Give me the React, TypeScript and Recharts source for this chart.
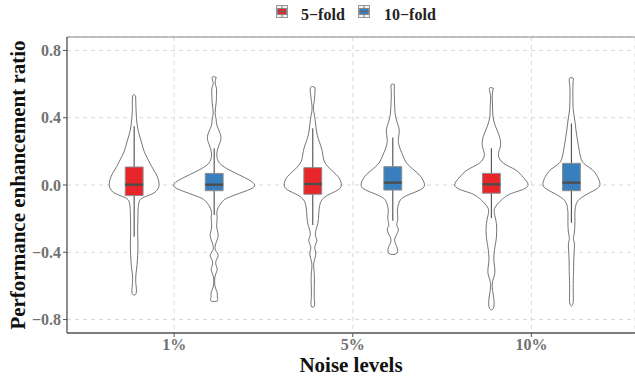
import { ComposedChart, Scatter, XAxis, YAxis, CartesianGrid, ReferenceLine } from 'recharts'

const GROUPS = ['1%', '5%', '10%']
const FOLDS = ['5−fold', '10−fold']
const FOLD_COLORS = ['#E8262A', '#3A7FBD']

// violin outlines: [ratio, density], top -> bottom
const RED_1 = [
  [0.53, 1.5], [0.46, 1.8], [0.4, 2.3], [0.35, 3.2], [0.3, 5], [0.25, 7.5], [0.2, 10], [0.15, 14],
  [0.11, 17.5], [0.07, 21.5], [0.035, 24], [0, 25], [-0.025, 23.5], [-0.05, 19], [-0.075, 9],
  [-0.1, 5], [-0.14, 4], [-0.2, 3.7], [-0.28, 3.5], [-0.35, 3.8], [-0.42, 3.5], [-0.48, 2.8],
  [-0.53, 1.8], [-0.58, 1.6], [-0.62, 2.3], [-0.65, 1.5],
]
const BLUE_1 = [
  [0.64, 2], [0.605, 1], [0.575, 2.3], [0.53, 2.3], [0.49, 2], [0.43, 1], [0.39, 2], [0.35, 3],
  [0.29, 6.7], [0.24, 5], [0.19, 2.7], [0.15, 3.5], [0.12, 7], [0.09, 15], [0.06, 25], [0.03, 35],
  [0, 40.5], [-0.025, 36], [-0.05, 25], [-0.075, 14], [-0.1, 8], [-0.15, 3], [-0.2, 3], [-0.25, 2.5],
  [-0.3, 4], [-0.35, 1.5], [-0.39, 1.5], [-0.42, 4], [-0.46, 1.5], [-0.5, 3], [-0.54, 1], [-0.6, 0.8],
  [-0.64, 3], [-0.67, 3.2], [-0.69, 3],
]
const RED_5 = [
  [0.58, 2.3], [0.53, 2], [0.49, 1.2], [0.45, 0.7], [0.39, 2.3], [0.31, 4], [0.25, 7], [0.2, 9.5],
  [0.15, 11], [0.11, 15], [0.07, 22], [0.035, 27], [0, 28.5], [-0.03, 25], [-0.06, 15], [-0.09, 9],
  [-0.12, 7], [-0.17, 6], [-0.23, 5], [-0.29, 2.5], [-0.33, 4], [-0.37, 2], [-0.41, 3], [-0.465, 1],
  [-0.53, 1.5], [-0.6, 1.5], [-0.67, 1.5], [-0.72, 1.5],
]
const BLUE_5 = [
  [0.596, 1.7], [0.55, 1.5], [0.48, 1.8], [0.42, 2.5], [0.37, 4.5], [0.32, 6.5], [0.27, 5.5],
  [0.22, 7], [0.17, 10.5], [0.13, 14], [0.09, 21], [0.05, 28], [0, 31.7], [-0.03, 27], [-0.055, 17],
  [-0.08, 9], [-0.11, 6], [-0.15, 4.5], [-0.2, 5], [-0.24, 4], [-0.27, 5.5], [-0.32, 2], [-0.36, 3.5],
  [-0.406, 4],
]
const RED_10 = [
  [0.575, 2], [0.53, 0.8], [0.47, 1.2], [0.41, 1.5], [0.35, 4], [0.29, 8], [0.23, 9], [0.18, 7],
  [0.13, 12], [0.09, 24], [0.045, 32], [0, 36.7], [-0.03, 30], [-0.05, 20], [-0.07, 14], [-0.09, 10],
  [-0.13, 4], [-0.17, 3], [-0.23, 5], [-0.31, 5], [-0.37, 3.5], [-0.45, 2.5], [-0.52, 3.5], [-0.58, 1],
  [-0.64, 1.5], [-0.68, 2.5], [-0.733, 2],
]
const BLUE_10 = [
  [0.634, 2], [0.58, 1.5], [0.5, 1.5], [0.44, 2], [0.38, 3.5], [0.33, 4.5], [0.27, 6], [0.2, 8],
  [0.15, 10], [0.12, 14], [0.09, 21], [0.05, 26], [0.01, 28.5], [-0.02, 26], [-0.05, 17], [-0.08, 9],
  [-0.11, 5], [-0.16, 3.5], [-0.21, 3.5], [-0.28, 3], [-0.32, 2], [-0.35, 3], [-0.42, 2.5], [-0.5, 2.2],
  [-0.55, 2], [-0.63, 1.8], [-0.707, 1.5],
]
const PROFILES = [RED_1, BLUE_1, RED_5, BLUE_5, RED_10, BLUE_10]

// box stats, same order as PROFILES
const WHISKER_LO = [-0.307, -0.178, -0.238, -0.212, -0.198, -0.224]
const Q1 = [-0.063, -0.034, -0.055, -0.03, -0.049, -0.034]
const MEDIAN = [0.002, 0.002, 0.006, 0.014, 0.004, 0.014]
const Q3 = [0.107, 0.069, 0.103, 0.109, 0.069, 0.129]
const WHISKER_HI = [0.35, 0.218, 0.337, 0.283, 0.218, 0.366]

const Y_TICKS = [-0.8, -0.4, 0, 0.4, 0.8]
const Y_MAX = 0.88

const DODGE = 0.224
const BOX_HALF = 0.05
const DENS_SCALE = 1 / 178.6

const FONT = 'Liberation Serif, Times New Roman, serif'
const noDot = () => <g />

const series = PROFILES.map((prof, i) => {
  const g = Math.floor(i / 2)
  const f = i % 2
  const cx = g + 1 + (f === 0 ? -DODGE : DODGE)
  const right = prof.map(([y, d]) => ({ x: cx + d * DENS_SCALE, y }))
  const left = [...prof].reverse().map(([y, d]) => ({ x: cx - d * DENS_SCALE, y }))
  return {
    f,
    violin: [...right, ...left, right[0]],
    whisker: [{ x: cx, y: WHISKER_LO[i] }, { x: cx, y: WHISKER_HI[i] }],
    box: [
      { x: cx - BOX_HALF, y: Q1[i] }, { x: cx + BOX_HALF, y: Q1[i] },
      { x: cx + BOX_HALF, y: Q3[i] }, { x: cx - BOX_HALF, y: Q3[i] },
      { x: cx - BOX_HALF, y: Q1[i] },
    ],
    median: [{ x: cx - BOX_HALF, y: MEDIAN[i] }, { x: cx + BOX_HALF, y: MEDIAN[i] }],
  }
})

const fmtY = (v: number) => v.toFixed(1).replace('-', '−')

const textFont = { fontFamily: FONT, fontWeight: 700 }
const titleStyle = { textAnchor: 'middle', fontFamily: FONT, fontWeight: 700, fontSize: 21, fill: '#111' }

function XTick({ x, y, payload }: any) {
  return (
    <text x={x} y={y} dy="0.71em" textAnchor="middle" fontSize={16} fill="#717171" style={textFont}>
      {GROUPS[payload.value - 1]}
    </text>
  )
}

function YTick({ x, y, payload }: any) {
  return (
    <text x={x} y={y} dy="0.36em" textAnchor="end" fontSize={16} fill="#717171" style={textFont}>
      {fmtY(payload.value)}
    </text>
  )
}

function LegendKey({ x, color }: { x: number; color: string }) {
  return (
    <g>
      <rect x={x + 0.5} y={5.5} width={11} height={12} fill="#f2f2f2" stroke="#999" />
      <line x1={x + 6} x2={x + 6} y1={6} y2={17} stroke="#777" />
      <rect x={x + 1.5} y={8.5} width={9} height={6} fill={color} stroke="#888" />
      <line x1={x + 1.5} x2={x + 10.5} y1={11.5} y2={11.5} stroke="#666" strokeWidth={1.2} />
    </g>
  )
}

export default function App() {
  return (
    <div
      style={{
        position: 'absolute', left: 0, top: 0, width: 635, height: 376, overflow: 'hidden',
        background: '#fff', fontFamily: FONT, fontWeight: 700,
      }}
    >
      <ComposedChart width={635} height={376} margin={{ top: 37, right: 0, bottom: 0, left: 0 }}>
        <CartesianGrid strokeDasharray="4 4" stroke="#d4d4d4" strokeWidth={0.9} />
        <XAxis
          type="number"
          dataKey="x"
          domain={[0.4, 3.58]}
          ticks={[1, 2, 3]}
          allowDataOverflow
          height={43}
          tickSize={4}
          tickMargin={2}
          axisLine={{ stroke: '#555', strokeWidth: 1.3 }}
          tickLine={{ stroke: '#555' }}
          tick={<XTick />}
          label={{ value: 'Noise levels', position: 'insideBottom', offset: 4, style: titleStyle }}
        />
        <YAxis
          type="number"
          dataKey="y"
          domain={[-Y_MAX, Y_MAX]}
          ticks={Y_TICKS}
          allowDataOverflow
          width={67}
          tickSize={4}
          tickMargin={2}
          axisLine={{ stroke: '#555', strokeWidth: 1.3 }}
          tickLine={{ stroke: '#555' }}
          tick={<YTick />}
          label={{
            value: 'Performance enhancement ratio',
            angle: -90,
            position: 'insideLeft',
            offset: 18,
            style: titleStyle,
          }}
        />
        <ReferenceLine y={Y_MAX} stroke="#8a8a8a" strokeWidth={1} />
        {series.map((s, i) => (
          <Scatter
            key={`v${i}`}
            data={s.violin}
            dataKey="y"
            shape={noDot}
            line={{ stroke: '#505050', strokeWidth: 0.8, fill: '#fff' }}
            lineType="joint"
            lineJointType="natural"
            legendType="none"
            isAnimationActive={false}
          />
        ))}
        {series.map((s, i) => (
          <Scatter
            key={`w${i}`}
            data={s.whisker}
            dataKey="y"
            shape={noDot}
            line={{ stroke: '#4d4d4d', strokeWidth: 1.1 }}
            lineType="joint"
            legendType="none"
            isAnimationActive={false}
          />
        ))}
        {series.map((s, i) => (
          <Scatter
            key={`b${i}`}
            data={s.box}
            dataKey="y"
            shape={noDot}
            line={{ stroke: '#8c8c8c', strokeWidth: 1, fill: FOLD_COLORS[s.f] }}
            lineType="joint"
            legendType="none"
            isAnimationActive={false}
          />
        ))}
        {series.map((s, i) => (
          <Scatter
            key={`m${i}`}
            data={s.median}
            dataKey="y"
            shape={noDot}
            line={{ stroke: '#4d4d4d', strokeWidth: 2.4 }}
            lineType="joint"
            legendType="none"
            isAnimationActive={false}
          />
        ))}
      </ComposedChart>
      <svg width={635} height={30} style={{ position: 'absolute', left: 0, top: 0 }}>
        <LegendKey x={276} color={FOLD_COLORS[0]} />
        <text x={301} y={20} fontSize={16} fill="#222" style={textFont}>{FOLDS[0]}</text>
        <LegendKey x={358} color={FOLD_COLORS[1]} />
        <text x={384} y={20} fontSize={16} fill="#222" style={textFont}>{FOLDS[1]}</text>
      </svg>
    </div>
  )
}
